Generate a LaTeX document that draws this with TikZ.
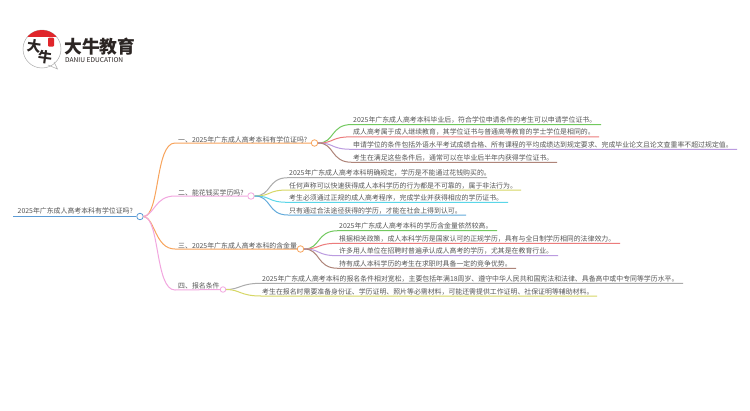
\documentclass[tikz,border=0pt]{standalone}
\usepackage{fontspec}
\setmainfont{Noto Sans CJK SC}
\newcommand{\qcomma}{\symbol{"FF0C}}
\definecolor{rootblue}{HTML}{5B9BD5}
\definecolor{borange}{HTML}{F8A45C}
\definecolor{bpink}{HTML}{F2A6DF}
\definecolor{lgreen}{HTML}{72C95F}
\definecolor{lred}{HTML}{EC7C7C}
\definecolor{lpurple}{HTML}{BB9BE0}
\definecolor{lbrown}{HTML}{AE8479}
\definecolor{lgrey}{HTML}{ABABAB}
\definecolor{lyellow}{HTML}{D6D765}
\definecolor{lcyan}{HTML}{5AD6E8}
\definecolor{lblue}{HTML}{62AADB}
\definecolor{txtgrey}{HTML}{555555}
\definecolor{logored}{HTML}{E0262B}
\definecolor{logoblack}{HTML}{2B2523}
\tikzset{
	hub/.style={circle,draw,fill=white,line width=0.8pt,minimum size=6.5pt,inner sep=0pt},
	label/.style={anchor=base west,inner sep=0pt,yshift=-0.8pt,text=txtgrey,font=\fontsize{6.9}{7}\selectfont},
	link/.style={line width=1pt},
}
\begin{document}
\begin{tikzpicture}[x=1pt,y=-1pt]
	\useasboundingbox (0,0) rectangle (750,410);
	\fill[white] (0,0) rectangle (750,410);
	
	% logo
	\draw[lgrey,line width=0.5pt,fill=white] (48,65) -- (57.5,69) -- (54,62);
	\draw[lgrey,line width=0.5pt] (42,49) circle (19);
	\begin{scope}
	\clip (23,30) rectangle (61,36.5);
	\fill[logored] (42,49) circle (19);
	\end{scope}
	\node[inner sep=0pt,text=logoblack,font=\fontsize{14}{14}\bfseries\selectfont,rotate=-8] (LogoDa) at (34,46) {大};
	\node[inner sep=0pt,text=logoblack,font=\fontsize{14}{14}\bfseries\selectfont,rotate=-8] (LogoNiu) at (45,57) {牛};
	\node[fill=logored,rounded corners=1pt,minimum width=6pt,minimum height=9pt,inner sep=0pt] (LogoSeal) at (51,42) {};
	\node[anchor=west,inner sep=0pt,text=logoblack,font=\fontsize{17.8}{18}\bfseries\selectfont] (LogoName) at (64,47) {大牛教育};
	\node[anchor=west,inner sep=0pt,text=logoblack,font=\fontsize{6.6}{7}\selectfont] (LogoEn) at (65,60.5) {DANIU EDUCATION};
	
	% root
	\coordinate (RootStart) at (13,216.5);
	\node[hub,draw=rootblue] (Root) at (140,216.5) {};
	\draw[rootblue,line width=1.1pt] (RootStart) -- (Root);
	\node[label] (RootText) at (17.5,213) {2025年广东成人高考本科有学位证吗?};
	
	% branches
	\coordinate (BendOne) at (175,143);
	\coordinate (BendTwo) at (175,196);
	\coordinate (BendThree) at (175,249);
	\coordinate (BendFour) at (175,290);
	\node[hub,draw=borange] (HubOne) at (314.5,143) {};
	\node[hub,draw=bpink] (HubTwo) at (251,196) {};
	\node[hub,draw=borange] (HubThree) at (300.5,249) {};
	\node[hub,draw=bpink,minimum size=5.5pt] (HubFour) at (223,289.5) {};
	\draw[borange,link] (Root.east) .. controls (160,216) and (155,143) .. (BendOne) -- (HubOne);
	\draw[bpink,link] (Root.east) .. controls (155,214) and (155,196) .. (BendTwo) -- (HubTwo);
	\draw[borange,link] (Root.east) .. controls (155,218) and (155,249) .. (BendThree) -- (HubThree);
	\draw[bpink,link] (Root.east) .. controls (160,218) and (155,290) .. (BendFour) -- (HubFour);
	\node[label] (TextOne) at (178,142) {一、2025年广东成人高考本科有学位证吗?};
	\node[label] (TextTwo) at (178,195) {二、能花钱买学历吗?};
	\node[label] (TextThree) at (178,248) {三、2025年广东成人高考本科的含金量};
	\node[label] (TextFour) at (178,288) {四、报名条件};
	
	% leaves of branch one
	\coordinate (OneAStart) at (352,124.5); \coordinate (OneAEnd) at (601,124.5);
	\coordinate (OneBStart) at (352,136.8); \coordinate (OneBEnd) at (599,136.8);
	\coordinate (OneCStart) at (352,149.3); \coordinate (OneCEnd) at (737,149.3);
	\coordinate (OneDStart) at (352,162.3); \coordinate (OneDEnd) at (557,162.3);
	\draw[lgreen,link] (HubOne.east) .. controls (335,143) and (330,124.5) .. (OneAStart) -- (OneAEnd);
	\draw[lred,link] (HubOne.east) .. controls (335,143) and (330,136.8) .. (OneBStart) -- (OneBEnd);
	\draw[lpurple,link] (HubOne.east) .. controls (335,143) and (330,149.3) .. (OneCStart) -- (OneCEnd);
	\draw[lbrown,link] (HubOne.east) .. controls (335,143) and (330,162.3) .. (OneDStart) -- (OneDEnd);
	\node[label] (TextOneA) at (353,121.5) {2025年广东成人高考本科毕业后\qcomma 符合学位申请条件的考生可以申请学位证书。};
	\node[label] (TextOneB) at (353,134) {成人高考属于成人继续教育\qcomma 其学位证书与普通高等教育的学士学位是相同的。};
	\node[label] (TextOneC) at (353,146.5) {申请学位的条件包括外语水平考试成绩合格、所有课程的平均成绩达到规定要求、完成毕业论文且论文查重率不超过规定值。};
	\node[label] (TextOneD) at (353,159.5) {考生在满足这些条件后\qcomma 通常可以在毕业后半年内获得学位证书。};
	
	% leaves of branch two
	\coordinate (TwoAStart) at (288,177.7); \coordinate (TwoAEnd) at (487,177.7);
	\coordinate (TwoBStart) at (288,190); \coordinate (TwoBEnd) at (521,190);
	\coordinate (TwoCStart) at (288,202.3); \coordinate (TwoCEnd) at (508,202.3);
	\coordinate (TwoDStart) at (288,215); \coordinate (TwoDEnd) at (466,215);
	\draw[lgrey,link] (HubTwo.east) .. controls (272,196) and (267,177.7) .. (TwoAStart) -- (TwoAEnd);
	\draw[lyellow,link] (HubTwo.east) .. controls (272,196) and (267,190) .. (TwoBStart) -- (TwoBEnd);
	\draw[lcyan,link] (HubTwo.east) .. controls (272,196) and (267,202.3) .. (TwoCStart) -- (TwoCEnd);
	\draw[lblue,link] (HubTwo.east) .. controls (272,196) and (267,215) .. (TwoDStart) -- (TwoDEnd);
	\node[label] (TextTwoA) at (289,175) {2025年广东成人高考本科明确规定\qcomma 学历是不能通过花钱购买的。};
	\node[label] (TextTwoB) at (289,187.5) {任何声称可以快速获得成人本科学历的行为都是不可靠的\qcomma 属于非法行为。};
	\node[label] (TextTwoC) at (289,199.5) {考生必须通过正规的成人高考程序\qcomma 完成学业并获得相应的学历证书。};
	\node[label] (TextTwoD) at (289,212.3) {只有通过合法途径获得的学历\qcomma 才能在社会上得到认可。};
	
	% leaves of branch three
	\coordinate (ThreeAStart) at (338,230.7); \coordinate (ThreeAEnd) at (497,230.7);
	\coordinate (ThreeBStart) at (338,243.3); \coordinate (ThreeBEnd) at (620,243.3);
	\coordinate (ThreeCStart) at (338,255.7); \coordinate (ThreeCEnd) at (558,255.7);
	\coordinate (ThreeDStart) at (338,268.3); \coordinate (ThreeDEnd) at (516,268.3);
	\draw[lgreen,link] (HubThree.east) .. controls (321,249) and (316,230.7) .. (ThreeAStart) -- (ThreeAEnd);
	\draw[lred,link] (HubThree.east) .. controls (321,249) and (316,243.3) .. (ThreeBStart) -- (ThreeBEnd);
	\draw[lpurple,link] (HubThree.east) .. controls (321,249) and (316,255.7) .. (ThreeCStart) -- (ThreeCEnd);
	\draw[lbrown,link] (HubThree.east) .. controls (321,249) and (316,268.3) .. (ThreeDStart) -- (ThreeDEnd);
	\node[label] (TextThreeA) at (339,228) {2025年广东成人高考本科的学历含金量依然较高。};
	\node[label] (TextThreeB) at (339,240.5) {根据相关政策\qcomma 成人本科学历是国家认可的正规学历\qcomma 具有与全日制学历相同的法律效力。};
	\node[label] (TextThreeC) at (339,253) {许多用人单位在招聘时普遍承认成人高考的学历\qcomma 尤其是在教育行业。};
	\node[label] (TextThreeD) at (339,265.5) {持有成人本科学历的考生在求职时具备一定的竞争优势。};
	
	% leaves of branch four
	\coordinate (FourAStart) at (261,283.3); \coordinate (FourAEnd) at (683,283.3);
	\coordinate (FourBStart) at (261,296); \coordinate (FourBEnd) at (597,296);
	\draw[lgrey,link] (HubFour.east) .. controls (240,289.5) and (240,283.3) .. (FourAStart) -- (FourAEnd);
	\draw[lyellow,link] (HubFour.east) .. controls (240,289.5) and (240,296) .. (FourBStart) -- (FourBEnd);
	\node[label] (TextFourA) at (262,281) {2025年广东成人高考本科的报名条件相对宽松\qcomma 主要包括年满18周岁、遵守中华人民共和国宪法和法律、具备高中或中专同等学历水平。};
	\node[label] (TextFourB) at (262,293.3) {考生在报名时需要准备身份证、学历证明、照片等必需材料\qcomma 可能还需提供工作证明、社保证明等辅助材料。};
\end{tikzpicture}
\end{document}
